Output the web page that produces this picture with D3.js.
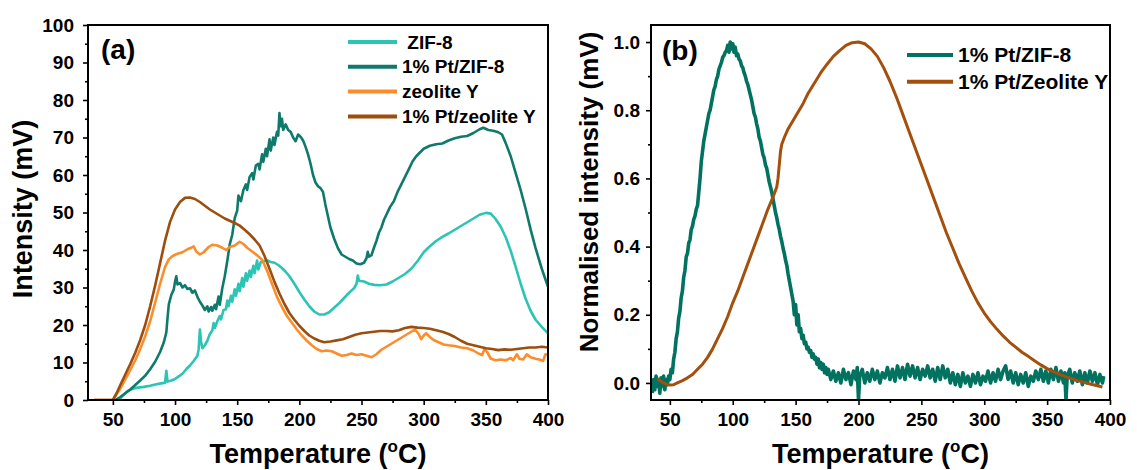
<!DOCTYPE html>
<html>
<head>
<meta charset="utf-8">
<script src="https://cdn.jsdelivr.net/npm/d3@7"></script>
<style>
  html, body { margin: 0; padding: 0; background: #fff; }
  svg { display: block; font-family: "Liberation Sans", Arial, sans-serif; font-weight: bold; }
</style>
</head>
<body>
<svg id="chart" width="1137" height="470"></svg>
<script>
// ---------- Panel (a): TPD intensity (mV) vs temperature (°C) ----------
const zif8 = [[55,0],[58,1.2],[62,2.4],[66,3.0],[70,3.3],[75,3.5],[80,3.8],[85,4.2],[90,4.5],[92,4.6],[93,7.8],[94,4.9],[97,5.2],[100,5.6],[103,6.3],[106,7.0],[109,8.2],[112,9.2],[115,10.4],[118,11.8],[119,13.5],[120,18.8],[121,15.5],[122,13.8],[124,14.6],[126,15.8],[128,17.6],[130,18.5],[131,20.5],[132,19.2],[134,21.0],[136,22.4],[137,21.5],[139,24.0],[141,24.2],[142,26.5],[143,25.0],[145,27.8],[146,26.2],[148,29.5],[149,27.8],[151,31.0],[152,29.0],[154,32.5],[155,30.2],[157,33.8],[158,31.8],[160,34.5],[161,32.8],[163,35.8],[164,33.8],[166,37.2],[167,34.8],[169,36.8],[171,37.0],[174,37.2],[177,36.8],[180,36.6],[183,36.0],[186,35.2],[189,34.2],[192,33.0],[196,31.0],[200,28.8],[204,26.8],[208,25.0],[212,23.6],[216,22.8],[220,22.8],[224,23.4],[228,24.6],[232,25.8],[236,27.2],[240,28.6],[244,29.8],[246,31.0],[247,33.2],[248,31.8],[252,31.6],[256,31.0],[260,30.7],[265,30.6],[270,30.8],[275,31.6],[280,32.6],[285,33.6],[290,35.0],[295,37.0],[300,39.4],[305,41.0],[310,42.4],[315,43.5],[320,44.4],[325,45.4],[330,46.4],[335,47.4],[340,48.4],[345,49.4],[350,49.9],[354,49.7],[358,48.2],[362,46.2],[366,43.4],[370,39.8],[374,35.5],[378,31.0],[382,27.0],[386,23.8],[390,21.4],[395,19.5],[400,17.8]];

const ptZif8 = [[52,0],[56,0.8],[60,1.8],[64,2.8],[68,4.0],[72,5.2],[76,6.5],[80,8.2],[84,10.2],[88,12.8],[91,15.4],[93,18.0],[94,22.0],[95,25.5],[97,28.0],[99,29.5],[100,31.5],[101,33.0],[102,30.8],[104,31.2],[106,30.0],[108,30.6],[110,29.6],[112,29.8],[114,28.6],[116,29.2],[118,27.5],[120,26.2],[122,25.2],[124,24.0],[126,25.0],[127,23.6],[129,24.8],[130,23.8],[132,25.4],[133,24.2],[135,27.6],[136,25.4],[138,29.8],[140,33.0],[142,37.0],[144,41.5],[146,44.0],[148,48.5],[150,50.5],[151,54.5],[153,53.0],[155,56.0],[157,57.5],[158,56.0],[160,59.5],[162,60.5],[163,58.8],[165,62.5],[167,63.0],[168,61.5],[170,65.5],[171,63.5],[173,67.0],[174,65.0],[176,69.5],[177,66.5],[179,70.0],[180,68.0],[182,71.5],[183,70.5],[184,76.5],[185,73.0],[186,75.0],[187,72.0],[189,73.5],[191,72.0],[193,71.5],[195,70.0],[197,69.0],[199,70.8],[201,70.2],[203,69.2],[205,67.5],[207,65.5],[209,63.0],[211,60.0],[213,58.0],[215,57.0],[217,56.5],[219,55.5],[221,52.0],[223,49.0],[225,46.0],[228,43.0],[231,40.5],[234,38.8],[237,38.2],[240,37.6],[243,37.2],[246,36.4],[249,36.2],[252,36.6],[254,37.8],[255,39.5],[256,38.2],[258,38.6],[260,40.6],[262,42.4],[264,44.6],[266,46.0],[268,48.0],[270,49.4],[273,51.5],[276,53.0],[279,55.5],[282,57.5],[285,59.5],[288,61.5],[291,63.6],[294,65.0],[297,66.0],[300,67.0],[305,67.8],[310,68.2],[315,68.4],[320,69.2],[325,69.8],[330,70.2],[335,70.4],[340,71.2],[345,72.2],[348,72.6],[352,72.0],[356,71.8],[360,71.4],[363,70.8],[366,68.5],[370,65.0],[374,60.5],[378,56.0],[382,51.0],[386,45.5],[390,40.5],[395,35.0],[400,30.2]];

const zeoliteY = [[35,0],[50,0],[53,1.5],[56,3.0],[60,5.5],[64,8.0],[68,10.6],[72,13.6],[76,17.0],[80,21.0],[84,26.0],[88,31.0],[92,35.5],[95,37.5],[98,38.4],[102,39.0],[106,39.4],[110,40.2],[113,40.6],[115,41.0],[117,39.6],[120,38.8],[123,39.4],[127,40.8],[130,41.4],[134,41.2],[138,40.6],[141,40.0],[144,40.8],[148,41.2],[152,42.2],[155,41.6],[158,40.6],[162,39.6],[166,38.6],[170,37.4],[174,34.5],[178,31.0],[182,27.5],[186,24.8],[190,22.4],[194,20.6],[198,18.8],[202,17.2],[206,15.8],[210,14.6],[214,13.6],[218,13.0],[222,13.2],[226,13.0],[230,12.4],[234,11.8],[238,12.0],[242,12.4],[246,12.0],[250,12.2],[254,11.8],[258,11.4],[262,12.2],[266,13.4],[270,14.2],[274,15.0],[278,15.8],[282,16.6],[286,17.4],[290,18.2],[293,18.8],[296,17.6],[298,16.2],[300,17.2],[302,17.8],[305,16.8],[308,16.0],[312,15.4],[316,14.8],[320,14.6],[325,14.4],[330,14.0],[335,13.8],[340,13.2],[344,12.4],[347,12.0],[349,13.6],[351,12.8],[354,11.0],[358,10.6],[362,10.8],[366,10.6],[370,11.2],[372,10.6],[375,12.2],[377,11.0],[380,10.8],[383,12.2],[386,11.4],[390,11.0],[393,10.8],[396,10.4],[398,12.2],[400,12.0]];

const ptZeoliteY = [[35,0],[50,0],[53,1.8],[56,4.0],[60,6.8],[64,9.6],[68,12.6],[72,16.0],[76,20.0],[80,25.0],[84,30.5],[88,36.5],[92,42.5],[96,47.5],[100,50.8],[104,52.8],[108,53.9],[112,54.0],[116,53.6],[120,52.8],[124,51.8],[128,50.8],[132,50.0],[136,49.2],[140,48.4],[144,47.8],[148,47.2],[152,46.5],[156,45.4],[160,44.2],[164,42.8],[168,41.2],[172,38.4],[176,35.0],[180,31.5],[184,28.4],[188,25.6],[192,23.2],[196,21.4],[200,19.8],[204,18.4],[208,17.2],[212,16.4],[216,15.8],[220,15.4],[225,15.6],[230,15.9],[235,16.2],[240,16.8],[245,17.4],[250,17.8],[255,18.0],[260,18.2],[265,18.4],[270,18.4],[275,18.3],[280,18.6],[285,19.2],[290,19.5],[295,19.3],[300,19.2],[305,19.0],[310,18.6],[315,18.2],[320,17.6],[325,16.8],[330,15.8],[335,15.0],[340,14.6],[345,14.2],[350,13.8],[355,13.6],[360,13.3],[365,13.5],[370,13.4],[375,13.6],[380,13.8],[385,14.0],[390,14.0],[395,14.2],[400,14.0]];

const seriesNamesA = [" ZIF-8", "1% Pt/ZIF-8", "zeolite Y", "1% Pt/zeolite Y"];
const seriesColorsA = ["#2cc4b4", "#0f7a6c", "#fb8d2c", "#9c4e0e"];
const xTicksA = [50, 100, 150, 200, 250, 300, 350, 400];
const xMinorA = [75, 125, 175, 225, 275, 325, 375];
const yTicksA = [0, 10, 20, 30, 40, 50, 60, 70, 80, 90, 100];
const yMinorA = [5, 15, 25, 35, 45, 55, 65, 75, 85, 95];

// ---------- Panel (b): normalised intensity vs temperature (°C) ----------
const ptZif8Norm = [[36,-0.03],[37,0.01],[38,-0.02],[39,0.02],[40,-0.01],[41,0.01],[42,-0.03],[43,0.015],[44,-0.01],[45,0.02],[46,-0.02],[47,0.01],[48,-0.005],[49,0.02],[50,0.01],[51,0.04],[52,0.03],[53,0.07],[54,0.09],[55,0.13],[56,0.15],[57,0.19],[58,0.21],[59,0.25],[60,0.27],[61,0.31],[62,0.33],[63,0.37],[64,0.38],[65,0.41],[66,0.42],[67,0.45],[68,0.46],[69,0.48],[70,0.49],[71,0.51],[72,0.52],[73,0.56],[74,0.60],[75,0.65],[76,0.68],[77,0.71],[78,0.73],[79,0.75],[80,0.77],[81,0.79],[82,0.80],[83,0.82],[84,0.84],[85,0.86],[86,0.87],[87,0.89],[88,0.90],[89,0.92],[90,0.93],[91,0.94],[92,0.955],[93,0.96],[94,0.97],[95,0.975],[96,0.99],[97,0.97],[98,1.0],[99,0.98],[100,0.995],[101,0.97],[102,0.985],[103,0.96],[104,0.965],[105,0.95],[106,0.945],[107,0.93],[108,0.925],[109,0.91],[110,0.90],[111,0.885],[112,0.875],[113,0.86],[114,0.845],[115,0.83],[116,0.81],[117,0.79],[118,0.78],[119,0.76],[120,0.745],[121,0.72],[122,0.71],[123,0.69],[124,0.67],[125,0.66],[126,0.64],[127,0.63],[128,0.61],[129,0.59],[130,0.575],[131,0.56],[132,0.54],[133,0.52],[134,0.50],[135,0.485],[136,0.465],[137,0.45],[138,0.43],[139,0.415],[140,0.395],[141,0.38],[142,0.36],[143,0.345],[144,0.32],[145,0.30],[146,0.28],[147,0.26],[148,0.24],[149,0.20],[150,0.23],[151,0.17],[152,0.20],[153,0.15],[154,0.16],[155,0.13],[156,0.14],[157,0.115],[158,0.12],[159,0.10],[160,0.105],[161,0.09],[162,0.095],[163,0.075],[164,0.085],[165,0.07],[166,0.075],[167,0.055],[168,0.07],[169,0.045],[170,0.06],[171,0.04],[172,0.055],[173,0.03],[174,0.045],[175,0.025],[176,0.04],[178,0.01],[180,0.035],[182,0.005],[184,0.03],[186,0.0],[188,0.04],[190,0.01],[192,0.03],[194,-0.005],[196,0.035],[198,0.01],[199,0.045],[200,-0.05],[201,0.02],[203,0.04],[205,0.0],[207,0.03],[209,0.005],[211,0.04],[213,0.01],[215,0.035],[217,0.0],[219,0.03],[221,0.015],[223,0.045],[225,0.01],[227,0.04],[229,0.005],[231,0.05],[233,0.015],[235,0.045],[237,0.01],[239,0.055],[241,0.02],[243,0.05],[245,0.015],[247,0.045],[249,0.01],[251,0.04],[253,0.02],[255,0.05],[257,0.015],[259,0.04],[261,0.005],[263,0.045],[265,0.01],[267,0.05],[269,0.015],[271,0.04],[273,0.0],[275,0.03],[277,-0.005],[279,0.025],[281,-0.01],[283,0.03],[285,0.0],[287,0.02],[289,-0.01],[291,0.025],[293,0.0],[295,0.03],[297,-0.005],[299,0.02],[301,0.005],[303,0.035],[305,0.0],[307,0.03],[309,0.005],[311,0.04],[313,0.01],[315,0.035],[317,0.05],[319,0.01],[321,0.035],[323,0.0],[325,0.03],[327,-0.005],[329,0.025],[331,0.0],[333,0.03],[335,-0.01],[337,0.02],[339,0.005],[341,0.035],[343,0.01],[345,0.04],[347,0.005],[349,0.035],[351,0.0],[353,0.04],[355,0.01],[357,0.045],[359,0.005],[361,0.035],[363,0.0],[364,0.03],[365,-0.05],[366,0.02],[368,0.04],[370,0.0],[372,0.03],[374,0.005],[376,0.035],[378,-0.005],[380,0.03],[382,0.0],[384,0.035],[386,0.005],[388,0.03],[390,-0.005],[392,0.025],[394,0.0],[395,0.02]];

const ptZeoliteYNorm = [[40,0.01],[42,0.008],[45,0.0],[48,-0.005],[50,-0.006],[53,-0.005],[56,0.0],[60,0.007],[64,0.015],[68,0.025],[72,0.04],[76,0.055],[80,0.075],[84,0.1],[88,0.13],[92,0.16],[96,0.195],[100,0.235],[104,0.27],[108,0.31],[112,0.35],[116,0.39],[120,0.43],[124,0.47],[128,0.51],[132,0.545],[135,0.575],[136,0.6],[137,0.64],[138,0.68],[139,0.70],[141,0.72],[144,0.745],[148,0.77],[152,0.795],[156,0.82],[160,0.85],[165,0.88],[170,0.91],[175,0.935],[180,0.958],[185,0.975],[190,0.99],[195,0.998],[200,1.0],[205,0.995],[210,0.98],[215,0.958],[220,0.925],[225,0.885],[230,0.84],[235,0.79],[240,0.74],[245,0.69],[250,0.64],[255,0.59],[260,0.54],[265,0.49],[270,0.44],[275,0.395],[280,0.35],[285,0.31],[290,0.27],[295,0.235],[300,0.205],[305,0.18],[310,0.158],[315,0.138],[320,0.12],[325,0.105],[330,0.09],[335,0.078],[340,0.065],[345,0.053],[350,0.042],[355,0.033],[360,0.025],[365,0.018],[370,0.012],[375,0.006],[380,0.001],[385,-0.004],[390,-0.008],[394,-0.012]];

const seriesNamesB = ["1% Pt/ZIF-8", "1% Pt/Zeolite Y"];
const seriesColorsB = ["#00725f", "#a4500c"];
const xTicksB = [50, 100, 150, 200, 250, 300, 350, 400];
const xMinorB = [75, 125, 175, 225, 275, 325, 375];
const yTicksB = [0, 0.2, 0.4, 0.6, 0.8, 1.0];
const yMinorB = [0.1, 0.3, 0.5, 0.7, 0.9];

const svg = d3.select("#chart");

function drawPanel(cfg) {
  const g = svg.append("g");
  const x = d3.scaleLinear().domain(cfg.xDomain).range([cfg.left, cfg.right]);
  const y = d3.scaleLinear().domain(cfg.yDomain).range([cfg.bottom, cfg.top]);

  const clipId = "clip-" + cfg.id;
  g.append("clipPath").attr("id", clipId).append("rect")
    .attr("x", cfg.left).attr("y", cfg.top)
    .attr("width", cfg.right - cfg.left).attr("height", cfg.bottom - cfg.top);

  // bottom axis: major + minor ticks
  g.append("g").attr("transform", `translate(0,${cfg.bottom})`)
    .call(d3.axisBottom(x).tickValues(cfg.xTicks).tickSize(5).tickPadding(8).tickFormat(d3.format("d")));
  g.append("g").attr("transform", `translate(0,${cfg.bottom})`)
    .call(d3.axisBottom(x).tickValues(cfg.xMinor).tickSize(3).tickFormat(""));

  // left axis: major + minor ticks
  g.append("g").attr("transform", `translate(${cfg.left},0)`)
    .call(d3.axisLeft(y).tickValues(cfg.yTicks).tickSize(5).tickPadding(cfg.yPad).tickFormat(cfg.yFormat));
  g.append("g").attr("transform", `translate(${cfg.left},0)`)
    .call(d3.axisLeft(y).tickValues(cfg.yMinor).tickSize(3).tickFormat(""));

  g.selectAll(".domain").remove();
  g.selectAll(".tick line").attr("stroke", "#000").attr("stroke-width", 1.6);
  g.selectAll(".tick text").attr("fill", "#000").attr("font-size", 19)
    .attr("font-weight", "bold").attr("font-family", "'Liberation Sans', Arial, sans-serif");

  // data curves
  const line = d3.line().x(d => x(d[0])).y(d => y(d[1]));
  const curves = g.append("g").attr("clip-path", `url(#${clipId})`);
  cfg.series.forEach((s, i) => {
    curves.append("path").datum(s)
      .attr("fill", "none")
      .attr("stroke", cfg.colors[i])
      .attr("stroke-width", cfg.widths[i])
      .attr("stroke-linejoin", "round")
      .attr("d", line);
  });

  // frame
  g.append("rect")
    .attr("x", cfg.left).attr("y", cfg.top)
    .attr("width", cfg.right - cfg.left).attr("height", cfg.bottom - cfg.top)
    .attr("fill", "none").attr("stroke", "#000").attr("stroke-width", 2);

  // panel tag
  g.append("text").attr("x", cfg.left + cfg.tagDx).attr("y", cfg.tagY)
    .attr("font-size", 28).attr("fill", "#000").text(cfg.tag);

  // legend
  cfg.names.forEach((n, i) => {
    const ly = cfg.legend.y + i * cfg.legend.gap;
    g.append("line")
      .attr("x1", cfg.legend.x).attr("x2", cfg.legend.x + cfg.legend.len)
      .attr("y1", ly).attr("y2", ly)
      .attr("stroke", cfg.colors[i]).attr("stroke-width", 4);
    g.append("text")
      .attr("x", cfg.legend.x + cfg.legend.len + 5).attr("y", ly)
      .attr("dy", "0.35em").attr("font-size", cfg.legend.size)
      .style("white-space", "pre").attr("fill", "#000").text(n);
  });

  // axis titles
  const xt = g.append("text")
    .attr("x", (cfg.left + cfg.right) / 2).attr("y", 463)
    .attr("text-anchor", "middle").attr("font-size", 27).attr("fill", "#000");
  xt.append("tspan").text("Temperature (");
  xt.append("tspan").attr("font-size", 17).attr("dy", -11).text("o");
  xt.append("tspan").attr("dy", 11).text("C)");

  g.append("text")
    .attr("transform", `translate(${cfg.yTitleX},${cfg.yTitleY}) rotate(-90)`)
    .attr("text-anchor", "middle").attr("font-size", cfg.yTitleSize).attr("fill", "#000")
    .text(cfg.yTitle);
}

drawPanel({
  id: "a", left: 88, right: 548, top: 25, bottom: 400,
  xDomain: [30, 400], yDomain: [0, 100],
  xTicks: xTicksA, xMinor: xMinorA, yTicks: yTicksA, yMinor: yMinorA,
  yFormat: d3.format("d"), yPad: 9,
  series: [zif8, ptZif8, zeoliteY, ptZeoliteY],
  colors: seriesColorsA, widths: [2.6, 2.6, 2.6, 2.6], names: seriesNamesA,
  tag: "(a)", tagDx: 13, tagY: 59,
  legend: { x: 348, y: 42, gap: 24.8, len: 49, size: 19 },
  yTitle: "Intensity (mV)", yTitleX: 32, yTitleY: 209, yTitleSize: 27
});

drawPanel({
  id: "b", left: 651, right: 1110, top: 25, bottom: 400,
  xDomain: [35, 400], yDomain: [-0.05, 1.05],
  xTicks: xTicksB, xMinor: xMinorB, yTicks: yTicksB, yMinor: yMinorB,
  yFormat: d3.format(".1f"), yPad: 6,
  series: [ptZif8Norm, ptZeoliteYNorm],
  colors: seriesColorsB, widths: [3.6, 3], names: seriesNamesB,
  tag: "(b)", tagDx: 11, tagY: 60,
  legend: { x: 907, y: 55, gap: 26.7, len: 46, size: 21 },
  yTitle: "Normalised intensity (mV)", yTitleX: 598, yTitleY: 192, yTitleSize: 26
});
</script>
</body>
</html>
